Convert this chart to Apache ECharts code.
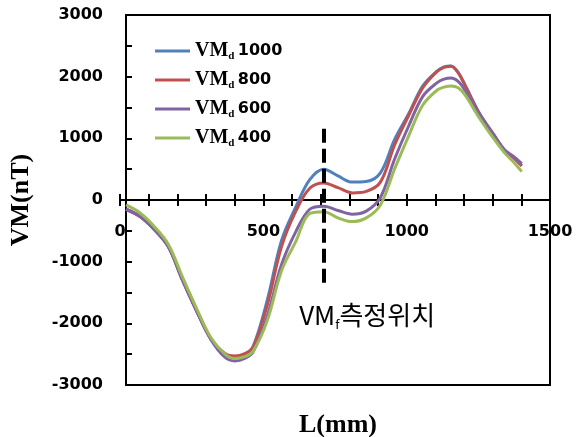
<!DOCTYPE html>
<html>
<head>
<meta charset="utf-8">
<script src="https://cdn.jsdelivr.net/npm/echarts@6/dist/echarts.min.js"></script>
<style>html,body{margin:0;padding:0;background:#fff;}#c{width:588px;height:437px;}</style>
</head>
<body>
<div id="c"></div>
<script>
const L = [0,50,100,150,200,250,300,350,385,420,450,500,550,600,650,700,750,800,850,900,950,1000,1050,1100,1125,1150,1175,1200,1250,1300,1340,1370,1400];
const vm1000 = [-150,-270,-480,-760,-1300,-1800,-2250,-2500,-2560,-2510,-2370,-1620,-660,-120,330,500,390,290,300,440,980,1400,1850,2090,2160,2175,2070,1860,1410,1070,800,690,560];
const vm800  = [-150,-270,-480,-760,-1300,-1800,-2250,-2490,-2530,-2490,-2390,-1700,-760,-190,190,275,200,115,140,290,890,1370,1820,2080,2150,2170,2065,1850,1400,1065,800,690,550];
const vm600  = [-150,-270,-480,-760,-1300,-1800,-2260,-2550,-2610,-2570,-2460,-1880,-1050,-520,-150,-100,-170,-230,-180,40,660,1200,1680,1900,1960,1980,1925,1775,1380,1050,810,710,590];
const vm400  = [-80,-210,-430,-720,-1250,-1760,-2230,-2500,-2570,-2540,-2450,-1950,-1150,-680,-220,-190,-290,-350,-290,-80,500,1040,1540,1780,1830,1850,1820,1700,1330,1000,760,620,460];
const seriesNames = ['1000','800','600','400'];
const seriesColors = ['#4F81BD','#C0504D','#8064A2','#9BBB59'];
const xTicks = {min:0, max:1500, interval:500};
const yTicks = {min:-3000, max:3000, interval:1000};
const markX = 700, markTop = 1154, markBottom = -1366;
const noteText = '측정위치';

const chart = echarts.init(document.getElementById('c'));
const allData = [vm1000, vm800, vm600, vm400];
const labelFont = {fontFamily:'DejaVu Sans', fontWeight:'bold', fontSize:16, color:'#000', formatter: v => String(v)};
const blk = {color:'#000', width:2};
const series = allData.map((arr,i)=>({
  name: seriesNames[i],
  type:'line',
  data: L.map((x,j)=>[x, arr[j]]),
  smooth: 0.35,
  symbol:'none',
  lineStyle:{width:3, color:seriesColors[i]},
  itemStyle:{color:seriesColors[i]},
  xAxisIndex:0, yAxisIndex:0
}));
series[3].markLine = {
  silent:true, symbol:'none', animation:false,
  label:{show:false},
  lineStyle:{color:'#000', width:4, type:[14,6]},
  data:[[{coord:[markX, markTop]},{coord:[markX, markBottom]}]]
};
series[3].markPoint = {
  silent:true, symbol:'rect', symbolSize:0, animation:false,
  data:[{coord:[853,-1870]}],
  label:{show:true, position:'inside',
    formatter:'{a|VM}{f|f}{b|'+noteText+'}',
    rich:{
      a:{fontFamily:'Noto Sans CJK KR', fontSize:26, color:'#000', lineHeight:30},
      f:{fontFamily:'Noto Sans CJK KR', fontSize:13, color:'#000', lineHeight:30, verticalAlign:'bottom', padding:[9,0,0,0]},
      b:{fontFamily:'Noto Sans CJK KR', fontSize:26, color:'#000', lineHeight:30}
    }}
};

const hiddenY = gi => ({type:'value', gridIndex:gi, min:0, max:1, show:false});
chart.setOption({
  animation:false,
  backgroundColor:'#fff',
  grid:[
    {left:120, right:38, top:15, bottom:52, show:true, borderColor:'#000', borderWidth:2, backgroundColor:'transparent'},
    {left:120, right:38, top:15, bottom:237},
    {left:120, right:38, top:200, bottom:52}
  ],
  legend:{
    orient:'vertical', left:150, top:36,
    icon:'rect', itemWidth:35, itemHeight:3, itemGap:8,
    data:seriesNames,
    formatter: n => '{vm|VM}{d|d} {n|'+n+'}',
    textStyle:{
      rich:{
        vm:{fontFamily:'Liberation Serif', fontWeight:'bold', fontSize:20, color:'#000', lineHeight:22},
        d:{fontFamily:'Liberation Serif', fontWeight:'bold', fontSize:11, color:'#000', lineHeight:22, verticalAlign:'bottom', padding:[6,0,0,0]},
        n:{fontFamily:'DejaVu Sans', fontWeight:'bold', fontSize:16, color:'#000', lineHeight:22}
      }
    }
  },
  title:{text:'L(mm)', left:333, top:407, textAlign:'center',
    textStyle:{fontFamily:'Liberation Serif', fontWeight:'bold', fontSize:26, color:'#000'}},
  xAxis:[
    {type:'value', gridIndex:0, min:xTicks.min, max:xTicks.max, interval:xTicks.interval,
     axisLine:{show:false}, axisTick:{show:false}, axisLabel:{show:false}, splitLine:{show:false}},
    {type:'value', gridIndex:1, min:xTicks.min, max:xTicks.max, interval:xTicks.interval, position:'bottom',
     axisLine:{show:true, onZero:false, lineStyle:blk},
     axisTick:{show:true, inside:false, length:6, lineStyle:blk},
     minorTick:{show:true, splitNumber:5, length:6, lineStyle:blk},
     axisLabel:Object.assign({margin:24}, labelFont),
     splitLine:{show:false}},
    {type:'value', gridIndex:2, min:xTicks.min, max:xTicks.max, interval:xTicks.interval, position:'top',
     axisLine:{show:false, onZero:false},
     axisTick:{show:true, inside:false, length:6, lineStyle:blk},
     minorTick:{show:true, splitNumber:5, length:6, lineStyle:blk},
     axisLabel:{show:false}, splitLine:{show:false}}
  ],
  yAxis:[
    {type:'value', gridIndex:0, min:yTicks.min, max:yTicks.max, interval:yTicks.interval,
    name:'VM(nT)', nameLocation:'middle', nameGap:92, nameRotate:90,
    nameTextStyle:{fontFamily:'Liberation Serif', fontWeight:'bold', fontSize:26, color:'#000'},
    axisLine:{show:true, onZero:false, lineStyle:blk},
    axisTick:{show:true, inside:true, length:6, lineStyle:blk},
    minorTick:{show:true, splitNumber:2, length:6, lineStyle:blk},
    axisLabel:Object.assign({margin:23}, labelFont),
    splitLine:{show:false}},
    hiddenY(1), hiddenY(2)
  ],
  series: series
});
</script>
</body>
</html>
